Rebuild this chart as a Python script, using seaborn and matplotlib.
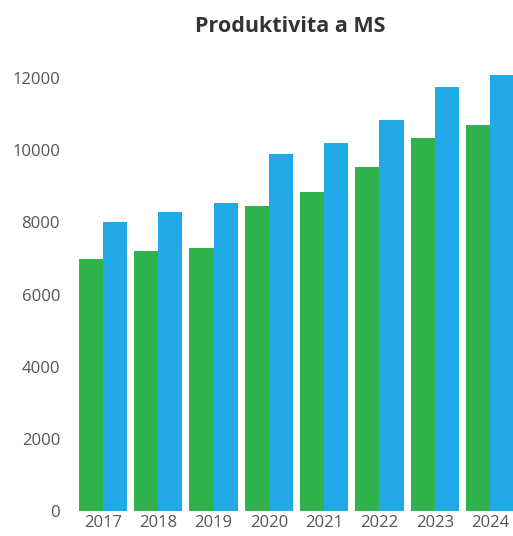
import pandas as pd
import matplotlib.pyplot as plt
import seaborn as sns

# data
years = ["2017", "2018", "2019", "2020", "2021", "2022", "2023", "2024"]
green_vals = [7000, 7200, 7300, 8450, 8850, 9550, 10350, 10700]
blue_vals = [8000, 8300, 8550, 9900, 10200, 10850, 11750, 12100]
series = ["A", "B"]

df = pd.DataFrame({
    "rok": years * 2,
    "serie": [series[0]] * len(years) + [series[1]] * len(years),
    "hodnota": green_vals + blue_vals,
})

sns.set_theme(style="white")
plt.rcParams["font.family"] = ["Open Sans", "DejaVu Sans"]

W, H = 513, 536
fig = plt.figure(figsize=(W / 100, H / 100), dpi=100)
# axes placed in pixel terms
left, right = 75.3, 517.7
bottom, top = 511, 71
ax = fig.add_axes([left / W, (H - bottom) / H, (right - left) / W, (bottom - top) / H])

sns.barplot(data=df, x="rok", y="hodnota", hue="serie",
            palette=["#2fb24c", "#20a9e6"], width=0.87, gap=0,
            saturation=1, linewidth=0, legend=False, ax=ax)

ax.set_ylim(0, 12200)
ax.set_xlim(-0.5, 7.5)
ax.set_yticks([0, 2000, 4000, 6000, 8000, 10000, 12000])
ax.set_xlabel("")
ax.set_ylabel("")
sns.despine(ax=ax, left=True, bottom=True)
ax.tick_params(axis="y", length=0, pad=11, labelsize=12, labelcolor="#555555")
ax.tick_params(axis="x", length=0, pad=3, labelsize=12, labelcolor="#555555")

fig.text(290 / W, 1 - 27 / H, "Produktivita a MS", ha="center", va="center",
         fontsize=15.5, fontweight="bold", color="#333333")

fig.savefig("out.png", dpi=100)
